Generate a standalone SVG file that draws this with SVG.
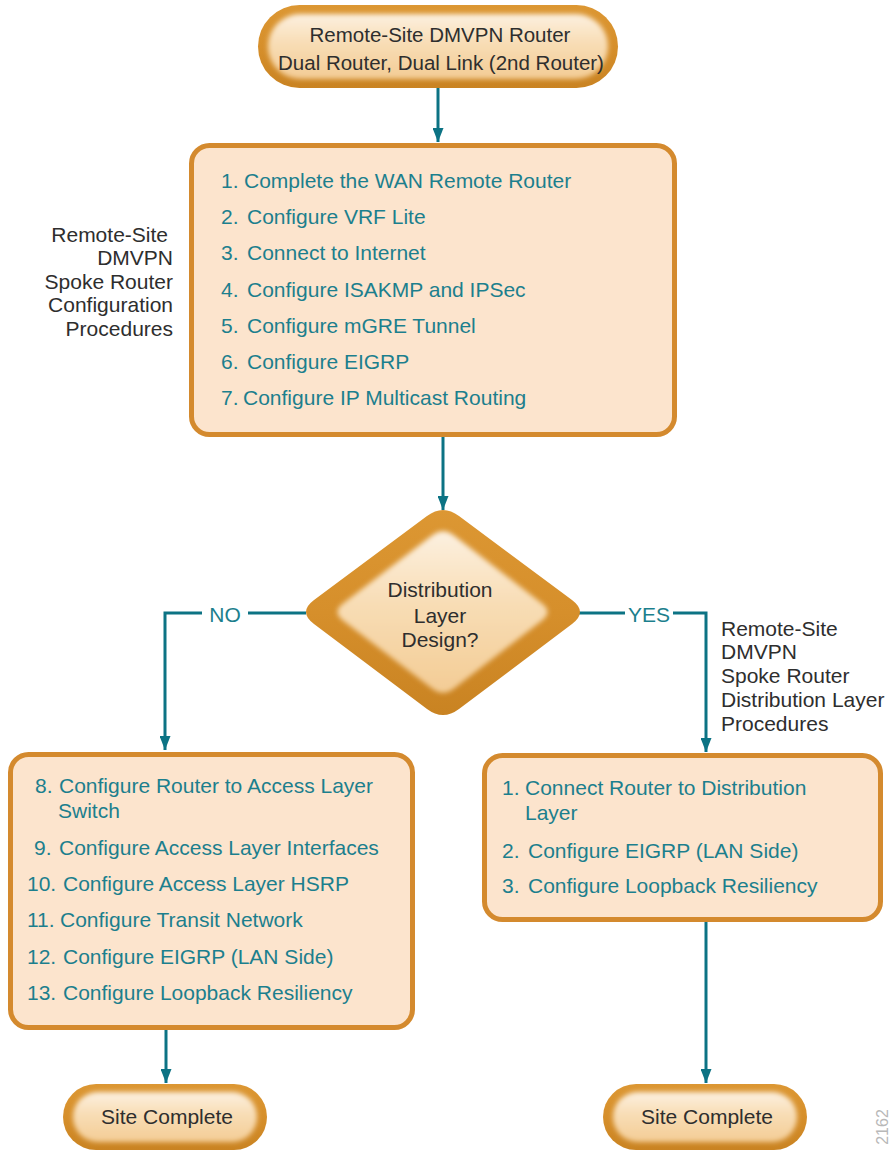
<svg xmlns="http://www.w3.org/2000/svg" width="892" height="1151" viewBox="0 0 892 1151">
<defs>
<style>
.lbl{font-family:"Liberation Sans",Arial,sans-serif;font-size:21px;fill:#2e2e2e}
.pill{font-family:"Liberation Sans",Arial,sans-serif;font-size:20.5px;fill:#2e2e2e}
.item{font-family:"Liberation Sans",Arial,sans-serif;font-size:21px;fill:#1c7f8d}
.box{fill:#fce4cd;stroke:#d48a2e;stroke-width:5}
.conn{fill:none;stroke:#0c7384;stroke-width:3}
.yn{font-family:"Liberation Sans",Arial,sans-serif;font-size:21px;fill:#1c7f8d}
.outer{fill:url(#gOuter)}
.inner{fill:url(#gInner);filter:url(#soft)}
</style>
<linearGradient id="gOuter" x1="0" y1="0" x2="0" y2="1">
<stop offset="0" stop-color="#dc9733"/>
<stop offset="0.5" stop-color="#d68f2b"/>
<stop offset="1" stop-color="#c98322"/>
</linearGradient>
<linearGradient id="gInner" x1="0" y1="0" x2="0" y2="1">
<stop offset="0" stop-color="#fcf0e0"/>
<stop offset="0.45" stop-color="#f8ddb5"/>
<stop offset="1" stop-color="#f3cc95"/>
</linearGradient>
<filter id="soft" x="-10%" y="-10%" width="120%" height="120%">
<feGaussianBlur stdDeviation="2.5"/>
</filter>
<marker id="arr" markerUnits="userSpaceOnUse" markerWidth="14" markerHeight="11" viewBox="0 0 14 11" refX="14" refY="5.5" orient="auto">
<path d="M0,0 L14,5.5 L0,11 Z" fill="#0c7384"/>
</marker>
</defs>
<rect width="892" height="1151" fill="#ffffff"/>

<g id="connectors">
<line class="conn" x1="438" y1="88" x2="438" y2="142" marker-end="url(#arr)"/>
<line class="conn" x1="443" y1="437" x2="443" y2="510" marker-end="url(#arr)"/>
<path class="conn" d="M306,613 H248"/>
<path class="conn" d="M202,613 H165 V750" marker-end="url(#arr)"/>
<path class="conn" d="M579,613 H625"/>
<path class="conn" d="M673,613 H706 V752" marker-end="url(#arr)"/>
<line class="conn" x1="166" y1="1030" x2="166" y2="1083" marker-end="url(#arr)"/>
<line class="conn" x1="706" y1="922" x2="706" y2="1083" marker-end="url(#arr)"/>
<text class="yn" x="225" y="622" text-anchor="middle">NO</text>
<text class="yn" x="649" y="622" text-anchor="middle">YES</text>
</g>

<g id="start">
<rect class="outer" x="258" y="5" width="360" height="83" rx="41.5"/>
<rect class="inner" x="268" y="14" width="340" height="65" rx="32.5"/>
<text class="pill" x="440" y="42" text-anchor="middle">Remote-Site DMVPN Router</text>
<text class="pill" x="441" y="70" text-anchor="middle">Dual Router, Dual Link (2nd Router)</text>
</g>

<g id="label-config">
<text class="lbl" x="168" y="242" text-anchor="end">Remote-Site</text>
<text class="lbl" x="173" y="265" text-anchor="end">DMVPN</text>
<text class="lbl" x="173" y="289" text-anchor="end">Spoke Router</text>
<text class="lbl" x="173" y="312" text-anchor="end">Configuration</text>
<text class="lbl" x="173" y="336" text-anchor="end">Procedures</text>
</g>

<g id="box-spoke">
<rect class="box" x="191.5" y="145.5" width="483" height="289" rx="18"/>
<text class="item" y="188"><tspan x="221">1.</tspan><tspan x="244">Complete the WAN Remote Router</tspan></text>
<text class="item" y="224"><tspan x="221">2.</tspan><tspan x="247">Configure VRF Lite</tspan></text>
<text class="item" y="260"><tspan x="221">3.</tspan><tspan x="247">Connect to Internet</tspan></text>
<text class="item" y="297"><tspan x="221">4.</tspan><tspan x="247">Configure ISAKMP and IPSec</tspan></text>
<text class="item" y="333"><tspan x="221">5.</tspan><tspan x="247">Configure mGRE Tunnel</tspan></text>
<text class="item" y="369"><tspan x="221">6.</tspan><tspan x="247">Configure EIGRP</tspan></text>
<text class="item" y="405"><tspan x="221">7.</tspan><tspan x="243">Configure IP Multicast Routing</tspan></text>
</g>

<g id="decision">
<path class="outer" d="M427,516 Q443,504 459,516 L572,600 Q588,612 572,624 L459,709 Q443,721 427,709 L314,624 Q298,612 314,600 Z"/>
<path class="inner" d="M432,535.5 Q443,527 454,535.5 L542,603.5 Q553,612 542,620.5 L454,688.5 Q443,697 432,688.5 L343,620.5 Q332,612 343,603.5 Z"/>
<text class="lbl" x="440" y="597" text-anchor="middle">Distribution</text>
<text class="lbl" x="440" y="623" text-anchor="middle">Layer</text>
<text class="lbl" x="440" y="647" text-anchor="middle">Design?</text>
</g>

<g id="label-dist">
<text class="lbl" x="721" y="636">Remote-Site</text>
<text class="lbl" x="721" y="659">DMVPN</text>
<text class="lbl" x="721" y="683">Spoke Router</text>
<text class="lbl" x="721" y="707">Distribution Layer</text>
<text class="lbl" x="721" y="731">Procedures</text>
</g>

<g id="box-access">
<rect class="box" x="10.5" y="754.5" width="402" height="273" rx="18"/>
<text class="item" y="793"><tspan x="35">8.</tspan><tspan x="59">Configure Router to Access Layer</tspan></text>
<text class="item" y="818"><tspan x="58">Switch</tspan></text>
<text class="item" y="855"><tspan x="34">9.</tspan><tspan x="59">Configure Access Layer Interfaces</tspan></text>
<text class="item" y="891"><tspan x="27">10.</tspan><tspan x="63">Configure Access Layer HSRP</tspan></text>
<text class="item" y="927"><tspan x="27">11.</tspan><tspan x="60">Configure Transit Network</tspan></text>
<text class="item" y="964"><tspan x="27">12.</tspan><tspan x="63">Configure EIGRP (LAN Side)</tspan></text>
<text class="item" y="1000"><tspan x="27">13.</tspan><tspan x="63">Configure Loopback Resiliency</tspan></text>
</g>

<g id="box-dist">
<rect class="box" x="484.5" y="755.5" width="396" height="164" rx="18"/>
<text class="item" y="795"><tspan x="502">1.</tspan><tspan x="525">Connect Router to Distribution</tspan></text>
<text class="item" y="820"><tspan x="525">Layer</tspan></text>
<text class="item" y="858"><tspan x="502">2.</tspan><tspan x="528">Configure EIGRP (LAN Side)</tspan></text>
<text class="item" y="893"><tspan x="502">3.</tspan><tspan x="528">Configure Loopback Resiliency</tspan></text>
</g>

<g id="end-left">
<rect class="outer" x="63" y="1084" width="204" height="66" rx="33"/>
<rect class="inner" x="73" y="1092" width="184" height="50" rx="25"/>
<text class="lbl" x="167" y="1124" text-anchor="middle">Site Complete</text>
</g>

<g id="end-right">
<rect class="outer" x="603" y="1084" width="204" height="66" rx="33"/>
<rect class="inner" x="613" y="1092" width="184" height="50" rx="25"/>
<text class="lbl" x="707" y="1124" text-anchor="middle">Site Complete</text>
</g>

<text x="0" y="0" transform="translate(888,1127) rotate(-90)" text-anchor="middle" font-family="Liberation Sans, Arial, sans-serif" font-size="16" fill="#b8b8b8">2162</text>
</svg>
